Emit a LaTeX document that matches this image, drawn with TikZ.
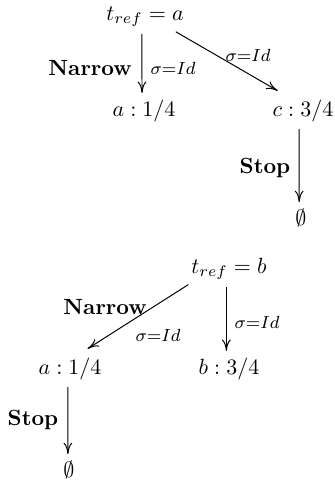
\documentclass[tikz,border=0pt]{standalone}
\usetikzlibrary{arrows.meta}
\begin{document}
\begin{tikzpicture}[x=0.4545pt,y=-0.4545pt,
  lbl/.style={inner sep=0pt},
  sig/.style={inner sep=0pt,font=\footnotesize},
  arr/.style={line width=0.45pt,-{To[length=5.2pt,width=4pt]}},
  st/.style={inner sep=3pt}]
\useasboundingbox (0,0) rectangle (335,484);
% top diagram
\node[st] (ta) at (145,17) {$t_{ref}=a$};
\node[st] (a1) at (144,111) {$a:1/4$};
\node[st] (c1) at (303,111) {$c:3/4$};
\node[st] (e1) at (301,218) {$\emptyset$};
\draw[arr] ([xshift=-1.4pt]ta.south) -- ([xshift=-0.9pt]a1.north);
\draw[arr] ([xshift=14pt,yshift=1pt]ta.south) -- ([xshift=-11.5pt,yshift=1pt]c1.north);
\draw[arr] ([xshift=-1.8pt]c1.south) -- ([xshift=-0.8pt]e1.north);
\node[lbl] (n1) at (90,68) {\textbf{Narrow}};
\node[sig] (s1) at (173,68) {$\sigma{=}Id$};
\node[sig] (s2) at (248,55) {$\sigma{=}Id$};
\node[lbl] (p1) at (265,168) {\textbf{Stop}};
% bottom diagram
\node[st] (tb) at (229,269) {$t_{ref}=b$};
\node[st] (a2) at (70,369) {$a:1/4$};
\node[st] (b2) at (229,369) {$b:3/4$};
\node[st] (e2) at (69,470) {$\emptyset$};
\draw[arr] ([xshift=-18.5pt,yshift=1pt]tb.south) -- ([xshift=8pt,yshift=1pt]a2.north);
\draw[arr] ([xshift=-1.2pt]tb.south) -- ([xshift=-1.2pt]b2.north);
\draw[arr] ([xshift=-1pt]a2.south) -- ([xshift=-0.5pt]e2.north);
\node[lbl] (n2) at (105,307) {\textbf{Narrow}};
\node[sig] (s3) at (158,335) {$\sigma{=}Id$};
\node[sig] (s4) at (257,322) {$\sigma{=}Id$};
\node[lbl] (p2) at (33,420) {\textbf{Stop}};
\end{tikzpicture}
\end{document}
